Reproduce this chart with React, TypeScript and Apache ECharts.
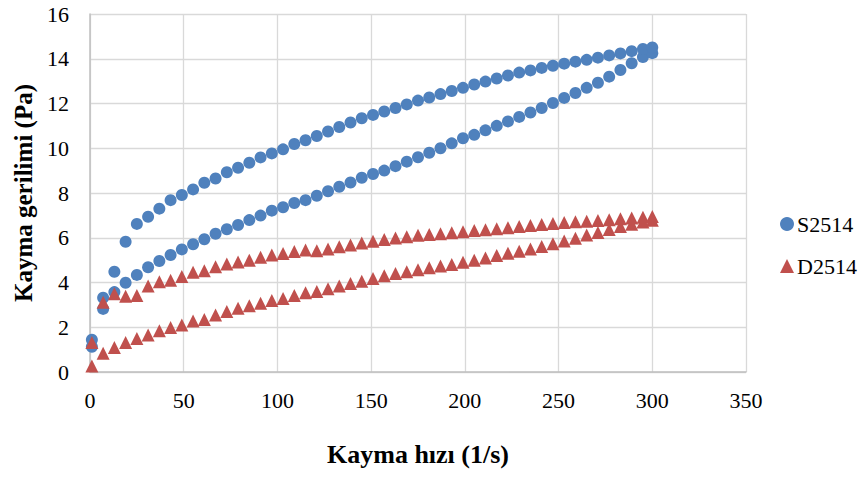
import React, { useEffect, useRef } from "react";
import * as echarts from "echarts";

// Shear rate (1/s)
const shearRate = [1, 7, 13, 19, 25, 31, 37, 43, 49, 55, 61, 67, 73, 79, 85, 91, 97, 103, 109, 115, 121, 127, 133, 139, 145, 151, 157, 163, 169, 175, 181, 187, 193, 199, 205, 211, 217, 223, 229, 235, 241, 247, 253, 259, 265, 271, 277, 283, 289, 295, 300];

// S2514 – upper branch (Pa)
const s2514Upper = [1.44, 3.32, 4.48, 5.82, 6.62, 6.94, 7.3, 7.68, 7.91, 8.16, 8.46, 8.65, 8.93, 9.13, 9.35, 9.59, 9.77, 9.95, 10.19, 10.36, 10.55, 10.75, 10.95, 11.15, 11.34, 11.49, 11.64, 11.8, 11.96, 12.13, 12.27, 12.42, 12.56, 12.7, 12.85, 12.98, 13.12, 13.25, 13.38, 13.48, 13.59, 13.69, 13.78, 13.87, 13.95, 14.05, 14.15, 14.24, 14.34, 14.44, 14.5];

// S2514 – lower branch (Pa)
const s2514Lower = [1.13, 2.82, 3.57, 3.99, 4.34, 4.68, 4.96, 5.23, 5.48, 5.71, 5.93, 6.18, 6.38, 6.57, 6.79, 6.99, 7.21, 7.36, 7.55, 7.68, 7.88, 8.08, 8.28, 8.47, 8.68, 8.85, 9.0, 9.2, 9.4, 9.6, 9.8, 10.0, 10.22, 10.45, 10.6, 10.8, 11.0, 11.2, 11.4, 11.6, 11.8, 12.02, 12.25, 12.47, 12.7, 12.93, 13.2, 13.5, 13.8, 14.08, 14.25];

// D2514 – upper branch (Pa)
const d2514Upper = [1.32, 3.12, 3.5, 3.39, 3.42, 3.84, 4.03, 4.1, 4.27, 4.46, 4.52, 4.7, 4.83, 4.92, 5.0, 5.13, 5.23, 5.3, 5.38, 5.45, 5.42, 5.5, 5.6, 5.68, 5.76, 5.84, 5.92, 5.99, 6.05, 6.11, 6.14, 6.18, 6.22, 6.27, 6.32, 6.36, 6.4, 6.45, 6.5, 6.55, 6.59, 6.64, 6.68, 6.71, 6.74, 6.77, 6.8, 6.85, 6.88, 6.92, 6.95];

// D2514 – lower branch (Pa)
const d2514Lower = [0.27, 0.84, 1.1, 1.32, 1.5, 1.65, 1.84, 1.99, 2.1, 2.28, 2.35, 2.55, 2.7, 2.85, 2.96, 3.07, 3.19, 3.29, 3.42, 3.54, 3.6, 3.72, 3.84, 3.95, 4.06, 4.18, 4.3, 4.4, 4.48, 4.57, 4.66, 4.74, 4.8, 4.9, 5.0, 5.1, 5.21, 5.31, 5.4, 5.5, 5.61, 5.73, 5.86, 5.98, 6.12, 6.24, 6.37, 6.5, 6.6, 6.7, 6.78];

const seriesNames = ["S2514", "D2514"];
const xTitle = "Kayma hızı (1/s)";
const yTitle = "Kayma gerilimi (Pa)";

const FONT = "'Liberation Serif', 'Times New Roman', serif";

function pairs(xs: number[], ys: number[]) {
  return xs.map((x, i) => [x, ys[i]]);
}

export default function App() {
  const ref = useRef<HTMLDivElement>(null);

  useEffect(() => {
    if (!ref.current) return;
    const chart = echarts.init(ref.current, null, { renderer: "svg" });
    chart.setOption({
      animation: false,
      backgroundColor: "#ffffff",
      textStyle: { fontFamily: FONT, color: "#000" },
      grid: { left: 90, right: 119, top: 14, bottom: 105 },
      legend: {
        orient: "vertical",
        left: 775,
        top: 208,
        itemWidth: 14,
        itemHeight: 14,
        itemGap: 20,
        textStyle: { fontFamily: FONT, fontSize: 22, color: "#000", padding: [0, 0, 0, -2] },
        data: [
          { name: seriesNames[0], icon: "circle" },
          { name: seriesNames[1], icon: "triangle" },
        ],
      },
      xAxis: {
        type: "value",
        min: 0,
        max: 350,
        interval: 50,
        name: xTitle,
        nameLocation: "middle",
        nameGap: 69,
        nameTextStyle: { fontFamily: FONT, fontSize: 26, fontWeight: "bold", color: "#000" },
        axisLine: { show: true, lineStyle: { color: "#BFBFBF", width: 1.5 } },
        axisTick: { show: false },
        axisLabel: { fontFamily: FONT, fontSize: 22, color: "#000", margin: 17 },
        splitLine: { show: true, lineStyle: { color: "#D9D9D9", width: 1.3 } },
      },
      yAxis: {
        type: "value",
        min: 0,
        max: 16,
        interval: 2,
        name: yTitle,
        nameLocation: "middle",
        nameGap: 48,
        nameTextStyle: { fontFamily: FONT, fontSize: 25, fontWeight: "bold", color: "#000" },
        axisLine: { show: true, lineStyle: { color: "#BFBFBF", width: 1.5 } },
        axisTick: { show: false },
        axisLabel: { fontFamily: FONT, fontSize: 22, color: "#000", margin: 21 },
        splitLine: { show: true, lineStyle: { color: "#D9D9D9", width: 1.3 } },
      },
      series: [
        {
          name: seriesNames[0],
          type: "scatter",
          symbol: "circle",
          symbolSize: 12,
          itemStyle: { color: "#4F81BD", opacity: 1 },
          data: [...pairs(shearRate, s2514Lower), ...pairs(shearRate, s2514Upper)],
        },
        {
          name: seriesNames[1],
          type: "scatter",
          symbol: "triangle",
          symbolSize: 13,
          itemStyle: { color: "#C0504D", opacity: 1 },
          data: [...pairs(shearRate, d2514Lower), ...pairs(shearRate, d2514Upper)],
        },
      ],
    });
    return () => chart.dispose();
  }, []);

  return <div ref={ref} style={{ width: 865, height: 477, position: "absolute", left: 0, top: 0 }} />;
}
